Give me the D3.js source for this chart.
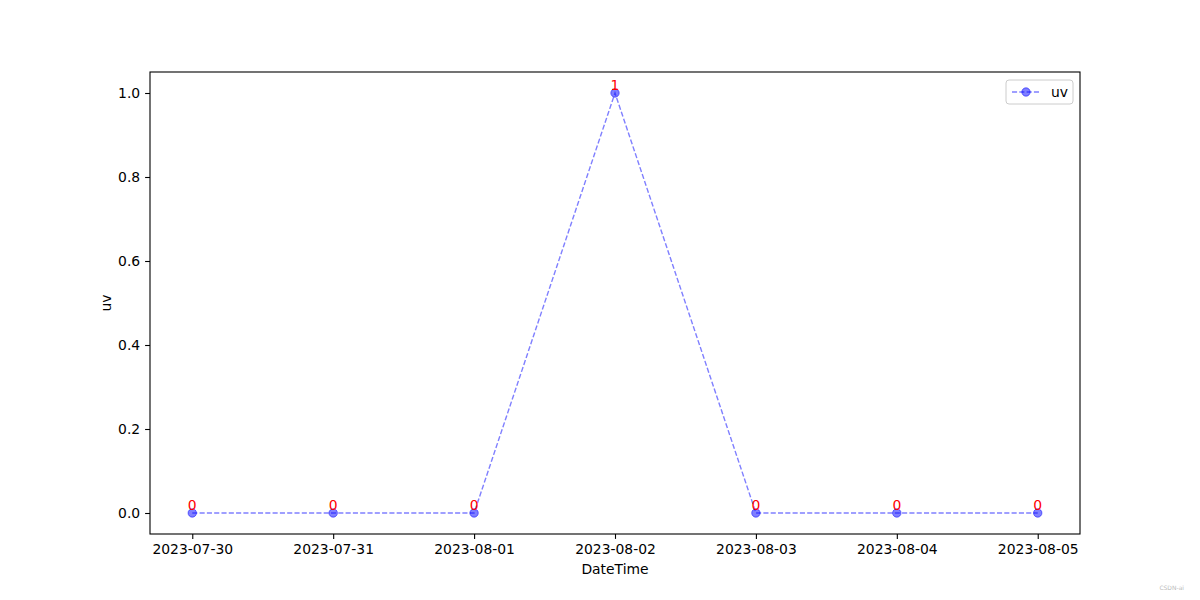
<!DOCTYPE html>
<html><head><meta charset="utf-8">
<script src="https://cdn.jsdelivr.net/npm/d3@7"></script>
<style>body{margin:0;background:#fff}svg{display:block}text{font-family:"DejaVu Sans",sans-serif}</style>
</head><body>
<svg id="c" width="1200" height="600"></svg>
<script>
const dates = ["2023-07-30","2023-07-31","2023-08-01","2023-08-02","2023-08-03","2023-08-04","2023-08-05"];
const uvValues = [0,0,0,1,0,0,0];
const yTicks = [0.0,0.2,0.4,0.6,0.8,1.0];
const seriesName = "uv";

const svg = d3.select("#c");
const L=150,R=1080,T=72,B=534;
const parse = d3.timeParse("%Y-%m-%d");
const data = dates.map((d,i)=>({date:parse(d),label:d,v:uvValues[i]}));
const ext = d3.extent(data,d=>d.date);
const span = ext[1]-ext[0];
const x = d3.scaleTime().domain([new Date(+ext[0]-span*0.05), new Date(+ext[1]+span*0.05)]).range([L,R]);
const x0 = d3.min(uvValues), x1 = d3.max(uvValues), yr=x1-x0;
const y = d3.scaleLinear().domain([x0-yr*0.05, x1+yr*0.05]).range([B,T]);

// axes
const xa = svg.append("g").attr("transform",`translate(0,${B})`)
  .call(d3.axisBottom(x).tickValues(data.map(d=>d.date)).tickFormat(d3.timeFormat("%Y-%m-%d")).tickSize(4.9).tickPadding(4.9));
const ya = svg.append("g").attr("transform",`translate(${L},0)`)
  .call(d3.axisLeft(y).tickValues(yTicks).tickFormat(d3.format(".1f")).tickSize(4.9).tickPadding(4.9));
[xa,ya].forEach(a=>{a.select(".domain").remove();a.selectAll("text").attr("font-size","13.9px").attr("fill","#000").attr("font-family","DejaVu Sans");a.selectAll("line").attr("stroke","#000").attr("stroke-width",1.1);});
xa.selectAll("text").attr("dy","0.71em");

// frame
svg.append("rect").attr("x",L).attr("y",T).attr("width",R-L).attr("height",B-T).attr("fill","none").attr("stroke","#000").attr("stroke-width",1.1);

// line
const line = d3.line().x(d=>x(d.date)).y(d=>y(d.v));
svg.append("path").datum(data).attr("d",line).attr("fill","none").attr("stroke","blue").attr("stroke-opacity",0.5).attr("stroke-width",1.4).attr("stroke-dasharray","5.1,2.2");
svg.selectAll("circle.pt").data(data).enter().append("circle").attr("class","pt")
  .attr("cx",d=>x(d.date)).attr("cy",d=>y(d.v)).attr("r",4.2).attr("fill","blue").attr("fill-opacity",0.5).attr("stroke","blue").attr("stroke-opacity",0.5).attr("stroke-width",1);
svg.selectAll("text.lbl").data(data).enter().append("text").attr("class","lbl")
  .attr("x",d=>x(d.date)).attr("y",d=>y(d.v)).attr("dy","-0.2em").attr("text-anchor","middle")
  .attr("fill","red").attr("font-size","13.9px").text(d=>d.v);

// axis labels
svg.append("text").attr("x",(L+R)/2).attr("y",574).attr("text-anchor","middle").attr("font-size","13.9px").text("DateTime");
svg.append("text").attr("transform",`translate(111,${(T+B)/2}) rotate(-90)`).attr("text-anchor","middle").attr("font-size","13.9px").text("uv");

// legend
const lg = svg.append("g");
lg.append("rect").attr("x",1006).attr("y",80).attr("width",67).attr("height",24).attr("rx",3).attr("fill","#fff").attr("fill-opacity",0.8).attr("stroke","#ccc").attr("stroke-width",1);
lg.append("line").attr("x1",1012).attr("x2",1040).attr("y1",92).attr("y2",92).attr("stroke","blue").attr("stroke-opacity",0.5).attr("stroke-width",1.4).attr("stroke-dasharray","5.1,2.2");
lg.append("circle").attr("cx",1026).attr("cy",92).attr("r",4.2).attr("fill","blue").attr("fill-opacity",0.5).attr("stroke","blue").attr("stroke-opacity",0.5);
lg.append("text").attr("x",1051).attr("y",97).attr("font-size","13.9px").text(seriesName);

// watermark
svg.append("text").attr("x",1184).attr("y",590).attr("text-anchor","end").attr("font-size","6px").attr("fill","#bbb").text("CSDN-ai");
</script>
</body></html>
